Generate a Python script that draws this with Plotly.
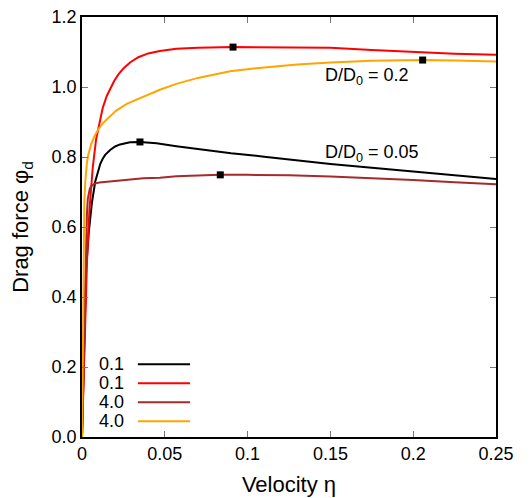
import plotly.graph_objects as go

# drag force vs velocity
eta_k01_d005 = [0, 0.0025, 0.004, 0.006, 0.008, 0.0095, 0.011, 0.0125, 0.014, 0.017, 0.02, 0.023,
                0.026, 0.029, 0.035, 0.045, 0.057, 0.07, 0.09, 0.11, 0.13, 0.15, 0.175, 0.2,
                0.225, 0.25]
phi_k01_d005 = [0, 0.48, 0.58, 0.67, 0.73, 0.758, 0.78, 0.795, 0.806, 0.82, 0.83, 0.836,
                0.84, 0.842, 0.843, 0.839, 0.831, 0.823, 0.811, 0.801, 0.79, 0.78, 0.769, 0.758,
                0.747, 0.737]

eta_k01_d02 = [0, 0.003, 0.0045, 0.0065, 0.0085, 0.0105, 0.0125, 0.015, 0.0175, 0.0195, 0.022,
               0.025, 0.029, 0.034, 0.04, 0.047, 0.057, 0.07, 0.0912, 0.12, 0.15, 0.175, 0.2,
               0.225, 0.25]
phi_k01_d02 = [0, 0.5, 0.65, 0.77, 0.85, 0.9, 0.94, 0.975, 1.0, 1.018, 1.036,
               1.053, 1.07, 1.085, 1.096, 1.103, 1.109, 1.112, 1.114, 1.114, 1.112, 1.106, 1.1,
               1.095, 1.092]

eta_k4_d005 = [0, 0.0022, 0.003, 0.0035, 0.004, 0.0047, 0.0054, 0.0065, 0.0075, 0.0105, 0.0169,
               0.025, 0.037, 0.047, 0.057, 0.07, 0.0835, 0.1, 0.125, 0.15, 0.175, 0.2, 0.225,
               0.25]
phi_k4_d005 = [0, 0.5, 0.64, 0.68, 0.698, 0.709, 0.716, 0.721, 0.724, 0.727, 0.73,
               0.734, 0.739, 0.741, 0.745, 0.747, 0.749, 0.749, 0.748, 0.744, 0.74, 0.734, 0.728,
               0.722]

eta_k4_d02 = [0, 0.0008, 0.0014, 0.002, 0.003, 0.004, 0.0055, 0.0074, 0.01, 0.0125, 0.0169,
              0.0205, 0.027, 0.037, 0.047, 0.057, 0.07, 0.0894, 0.11, 0.13, 0.15, 0.175, 0.2057,
              0.225, 0.25]
phi_k4_d02 = [0, 0.56, 0.67, 0.73, 0.785, 0.81, 0.836, 0.858, 0.88, 0.896, 0.915,
              0.932, 0.952, 0.973, 0.992, 1.009, 1.026, 1.045, 1.056, 1.064, 1.07, 1.075, 1.077,
              1.076, 1.073]

# maxima marked with squares
max_eta = [0.035, 0.0912, 0.0835, 0.2057]
max_phi = [0.843, 1.114, 0.749, 1.077]

legend_labels = ["0.1", "0.1", "4.0", "4.0"]
colors = ["black", "#ff0000", "#a52a2a", "#ffa500"]

series = [(eta_k01_d005, phi_k01_d005), (eta_k01_d02, phi_k01_d02),
          (eta_k4_d005, phi_k4_d005), (eta_k4_d02, phi_k4_d02)]

fig = go.Figure()
for (x, y), c, lab in zip(series, colors, legend_labels):
    fig.add_trace(go.Scatter(x=x, y=y, mode="lines", name=lab,
                             line=dict(color=c, width=2), showlegend=False))

fig.add_trace(go.Scatter(x=max_eta, y=max_phi, mode="markers", showlegend=False,
                         marker=dict(symbol="square", size=7, color="black")))

# gnuplot-style key: text on the left, line sample on the right
shapes = []
for i, (lab, c) in enumerate(zip(legend_labels, colors)):
    yy = 0.173 - i * 0.0452
    fig.add_annotation(x=0.106, y=yy, xref="paper", yref="paper", text=lab,
                       showarrow=False, xanchor="right", yanchor="middle",
                       font=dict(size=18, color="black"))
    shapes.append(dict(type="line", xref="paper", yref="paper",
                       x0=0.135, x1=0.261, y0=yy, y1=yy,
                       line=dict(color=c, width=2)))

fig.add_annotation(x=0.1455, y=1.031, text="D/D<sub>0</sub> = 0.2", showarrow=False,
                   xanchor="left", yanchor="middle", font=dict(size=18, color="black"))
fig.add_annotation(x=0.1455, y=0.809, text="D/D<sub>0</sub> = 0.05", showarrow=False,
                   xanchor="left", yanchor="middle", font=dict(size=18, color="black"))

fig.update_xaxes(
    range=[0, 0.25],
    tickvals=[0, 0.05, 0.1, 0.15, 0.2, 0.25],
    ticktext=["0", "0.05", "0.1", "0.15", "0.2", "0.25"],
    ticks="inside", ticklen=6, tickcolor="#777", mirror="ticks",
    showline=True, linecolor="black", linewidth=1.5,
    showgrid=False, zeroline=False, automargin=False, ticklabeloverflow="allow",
    title_text="Velocity η", title_standoff=13)
fig.update_yaxes(
    range=[0, 1.2],
    tickvals=[0, 0.2, 0.4, 0.6, 0.8, 1.0, 1.2],
    tickformat=".1f",
    ticks="inside", ticklen=6, tickcolor="#777", mirror="ticks",
    showline=True, linecolor="black", linewidth=1.5,
    showgrid=False, zeroline=False, automargin=False, ticklabeloverflow="allow",
    title_text="Drag force φ<sub>d</sub>", title_standoff=22)

# the page adds an 8px body margin, so the figure is 8px smaller and margins shifted
fig.update_layout(
    width=522, height=490,
    margin=dict(l=74, r=34, t=9, b=61, autoexpand=False),
    plot_bgcolor="white", paper_bgcolor="white",
    font=dict(family="Liberation Sans, Arial, sans-serif", size=18, color="black"),
    shapes=shapes)

fig.write_html("out.html")
